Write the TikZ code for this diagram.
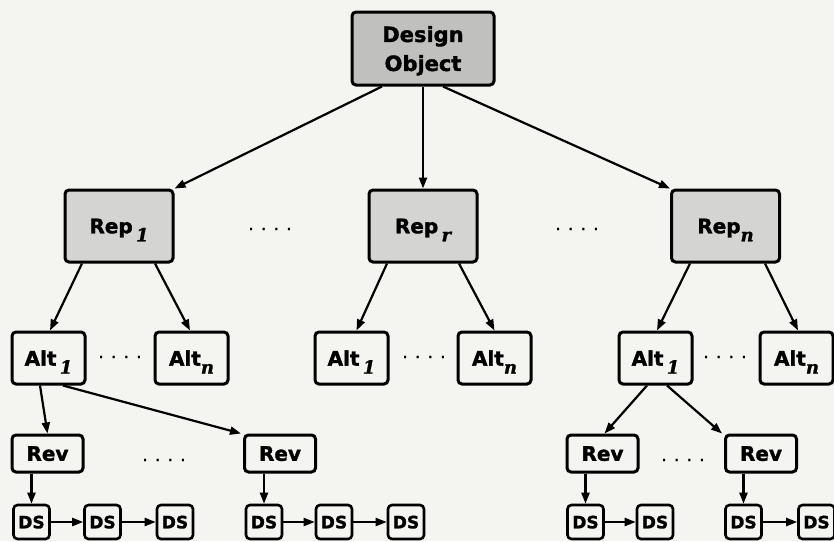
\documentclass[tikz,border=0pt]{standalone}
\usepackage{fontspec}
\setmainfont{DejaVu Sans}[BoldFeatures={FakeBold=1.6}]
\newfontfamily\subf{DejaVu Serif}[BoldItalicFeatures={FakeBold=1.2}]
\newfontfamily\dotf{DejaVu Sans}[FakeBold=1.5]
\usetikzlibrary{arrows.meta,calc}
\definecolor{bg}{RGB}{244,244,240}
\definecolor{dfill}{RGB}{192,192,190}
\definecolor{rfill}{RGB}{212,212,210}
\newcommand\sbx[1]{\raisebox{-8pt}[0pt][0pt]{\fontsize{18}{18}\selectfont\subf\bfseries\itshape #1}}
\begin{document}
\begin{tikzpicture}[x=1pt,y=-1pt,
  box/.style={draw=black, line width=3pt, rounded corners=4pt, inner sep=0pt,
    align=center, text depth=0pt, font=\fontsize{20}{22}\selectfont\bfseries},
  dobj/.style={box, fill=dfill, minimum width=142pt, minimum height=73pt,
    font=\fontsize{21}{29}\selectfont\bfseries},
  repbox/.style={box, fill=rfill, minimum width=108pt, minimum height=72pt},
  altbox/.style={box, minimum width=73pt, minimum height=52pt},
  revbox/.style={box, minimum width=71pt, minimum height=37pt, font=\fontsize{20}{22}\selectfont\bfseries},
  dsbox/.style={box, line width=2.6pt, minimum width=36pt, minimum height=34pt, font=\fontsize{17}{18}\selectfont\bfseries},
  dotsl/.style={inner sep=0pt, font=\fontsize{17}{17}\selectfont\dotf},
  conn/.style={line width=2.2pt, -{Triangle[length=11pt,width=8pt]}}
]
\fill[bg] (0,0) rectangle (834,541);
\useasboundingbox (0,0) rectangle (834,541);

% top
\node[dobj] (d) at (423,48.5) {Design\\Object};

% reps
\node[repbox] (rep1) at (119,226) {Rep\,\sbx{1}};
\node[repbox] (repr) at (423,226) {Rep\,\sbx{r}};
\node[repbox] (repn) at (725.5,226) {Rep\sbx{n}};
\node[dotsl] (dt1) at (270,229) {. . . .};
\node[dotsl] (dt2) at (577,229) {. . . .};

% alts
\node[altbox] (a11) at (48.5,358) {Alt\,\sbx{1}};
\node[altbox] (a1n) at (191.5,358) {Alt\sbx{n}};
\node[altbox] (a21) at (351.5,358) {Alt\,\sbx{1}};
\node[altbox] (a2n) at (494.5,358) {Alt\sbx{n}};
\node[altbox] (a31) at (655.5,358) {Alt\,\sbx{1}};
\node[altbox] (a3n) at (796.5,358) {Alt\sbx{n}};
\node[dotsl] (dt3) at (120,357) {. . . .};
\node[dotsl] (dt4) at (424,357) {. . . .};
\node[dotsl] (dt5) at (725,357) {. . . .};

% revs
\node[revbox] (r11) at (47.5,453.5) {Rev};
\node[revbox] (r12) at (280,453.5) {Rev};
\node[revbox] (r21) at (602.5,453.5) {Rev};
\node[revbox] (r22) at (761,453.5) {Rev};
\node[dotsl] (dt6) at (164,460) {. . . .};
\node[dotsl] (dt7) at (683,460) {. . . .};

% DS
\node[dsbox] (s1) at (31.5,522) {DS};
\node[dsbox] (s2) at (102.5,522) {DS};
\node[dsbox] (s3) at (175,522) {DS};
\node[dsbox] (s4) at (264,522) {DS};
\node[dsbox] (s5) at (334,522) {DS};
\node[dsbox] (s6) at (406,522) {DS};
\node[dsbox] (s7) at (585.5,522) {DS};
\node[dsbox] (s8) at (655,522) {DS};
\node[dsbox] (s9) at (743.5,522) {DS};
\node[dsbox] (s10) at (816.5,522) {DS};

% connectors top
\draw[conn] ($(d.south)+(-41,0)$) -- (rep1.north east);
\draw[conn] (d.south) -- (repr.north);
\draw[conn] ($(d.south)+(20,0)$) -- (repn.north west);

% rep -> alt
\draw[conn] ($(rep1.south)+(-37,0)$) -- ($(a11.north)+(1.5,0)$);
\draw[conn] ($(rep1.south)+(36,0)$) -- ($(a1n.north)+(-1.5,0)$);
\draw[conn] ($(repr.south)+(-36,0)$) -- ($(a21.north)+(5,0)$);
\draw[conn] ($(repr.south)+(36,0)$) -- (a2n.north);
\draw[conn] ($(repn.south)+(-35.5,0)$) -- ($(a31.north)+(1.5,0)$);
\draw[conn] ($(repn.south)+(39.5,0)$) -- ($(a3n.north)+(1.5,0)$);

% alt -> rev
\draw[conn] ($(a11.south)+(-8.5,0)$) -- (r11.north);
\draw[conn] ($(a11.south)+(14.5,0)$) -- ($(r12.north west)+(-2,0)$);
\draw[conn] ($(a31.south)+(-8.5,0)$) -- ($(r21.north)+(2,0)$);
\draw[conn] ($(a31.south)+(11.5,0)$) -- ($(r22.north west)+(-2,0)$);

% rev -> ds
\draw[conn] (s1.north |- r11.south) -- (s1.north);
\draw[conn] (s4.north |- r12.south) -- (s4.north);
\draw[conn] (s7.north |- r21.south) -- (s7.north);
\draw[conn] (s9.north |- r22.south) -- (s9.north);

% ds chains
\draw[conn] (s1.east) -- (s2.west);
\draw[conn] (s2.east) -- (s3.west);
\draw[conn] (s4.east) -- (s5.west);
\draw[conn] (s5.east) -- (s6.west);
\draw[conn] (s7.east) -- (s8.west);
\draw[conn] (s9.east) -- (s10.west);
\end{tikzpicture}
\end{document}
